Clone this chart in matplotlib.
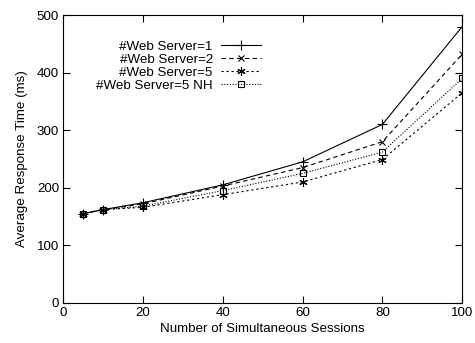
import matplotlib
matplotlib.use('Agg')
import matplotlib.pyplot as plt
from matplotlib.transforms import IdentityTransform

plt.rcParams['font.family'] = ['Liberation Sans', 'DejaVu Sans']

sessions = [5, 10, 20, 40, 60, 80, 100]
ws1 = [155, 162, 174, 205, 245, 310, 480]
ws2 = [155, 162, 172, 203, 235, 280, 432]
ws5 = [155, 162, 166, 188, 210, 249, 365]
ws5_nh = [155, 162, 168, 195, 225, 262, 390]

labels = ['#Web Server=1', '#Web Server=2', '#Web Server=5', '#Web Server=5 NH']
fs = 9.6

fig = plt.figure(figsize=(4.75, 3.43), dpi=100)
ax = fig.add_axes([0.133, 0.117, 0.84, 0.839])

ax.plot(sessions, ws1, '-', color='black', lw=0.8, marker='+', ms=7, mew=0.8, label=labels[0])
ax.plot(sessions, ws2, '--', color='black', lw=0.8, marker='x', ms=5, mew=0.8,
        dashes=(4, 3), label=labels[1])
ax.plot(sessions, ws5, '--', color='black', lw=0.8, marker=(6, 2, 0), ms=6, mew=0.8,
        dashes=(2, 2.5), label=labels[2])
ax.plot(sessions, ws5_nh, ':', color='black', lw=0.8, marker='s', ms=5, mew=0.8,
        mfc='none', dashes=(1, 1.5), label=labels[3])

ax.set_xlim(0, 100)
ax.set_ylim(0, 500)
ax.set_xticks([0, 20, 40, 60, 80, 100])
ax.set_yticks([0, 100, 200, 300, 400, 500])
ax.tick_params(direction='in', top=True, right=True, length=5, labelsize=fs, width=0.8, pad=3)
for s in ax.spines.values():
    s.set_linewidth(0.8)
ax.set_xlabel('Number of Simultaneous Sessions', fontsize=fs, labelpad=3)
ax.set_ylabel('Average Response Time (ms)', fontsize=fs, labelpad=6)

# gnuplot-style key: right-aligned labels, samples to their right
leg = ax.legend(loc='upper left', bbox_to_anchor=(0.395, 0.912), frameon=False,
                fontsize=fs, handlelength=3.0, labelspacing=0.05,
                handletextpad=0.5, borderaxespad=0, borderpad=0)
fig.canvas.draw()
for h, t in zip(leg.legend_handles, leg.get_texts()):
    xy = h.get_transform().transform(h.get_xydata())
    x0 = xy[:, 0].min()
    ty = t.get_transform().transform(t.get_position())[1]
    label = t.get_text()
    t.set_visible(False)
    fig.text(x0 - 8, ty, label, ha='right', va='baseline', fontsize=fs,
             transform=IdentityTransform())

fig.savefig('out.png', dpi=100)
